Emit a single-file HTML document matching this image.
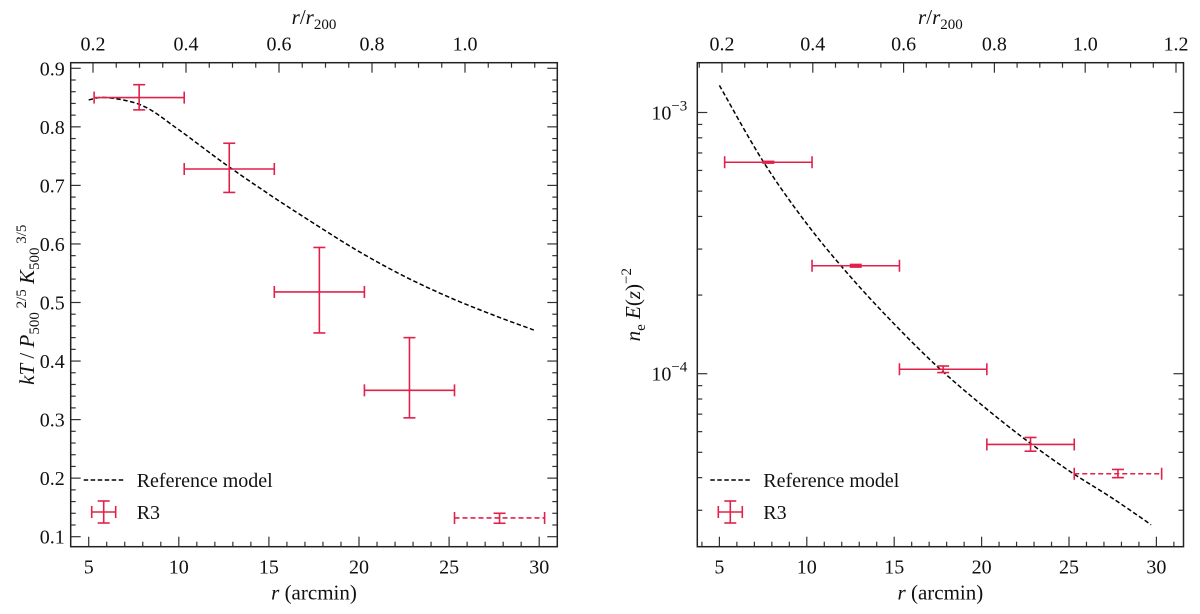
<!DOCTYPE html>
<html><head><meta charset="utf-8">
<style>
html,body{margin:0;padding:0;background:#fff;}
svg, svg text{font-family:"Liberation Serif","Times New Roman","DejaVu Serif","Noto Serif CJK SC",serif;}
</style></head>
<body>
<svg id="fig" width="1200" height="609" viewBox="0 0 1200 609" xmlns="http://www.w3.org/2000/svg"></svg>
<script>
// ---- Left panel data (temperature) ----
const tempBinsR = [7.8, 12.8, 17.8, 22.8, 27.8];
const tempBinLo = [5.3, 10.3, 15.3, 20.3, 25.3];
const tempBinHi = [10.3, 15.3, 20.3, 25.3, 30.3];
const tempValues = [0.850, 0.728, 0.518, 0.350, 0.132];
const tempErrHi = [0.872, 0.772, 0.594, 0.440, 0.140];
const tempErrLo = [0.829, 0.688, 0.448, 0.303, 0.123];
const tempModelR = [5, 6, 8, 10, 12.5, 15, 17.5, 20, 22.5, 25, 27.5, 29.7];
const tempModelV = [0.846, 0.850, 0.836, 0.795, 0.738, 0.685, 0.635, 0.587, 0.545, 0.509, 0.478, 0.453];
const tempYTicks = [0.1,0.2,0.3,0.4,0.5,0.6,0.7,0.8,0.9];
// ---- Right panel data (density) ----
const densValues = [6.45e-4, 2.59e-4, 1.04e-4, 5.36e-5, 4.14e-5];
const densErrHi = [6.50e-4, 2.62e-4, 1.07e-4, 5.70e-5, 4.30e-5];
const densErrLo = [6.40e-4, 2.56e-4, 1.01e-4, 5.05e-5, 4.00e-5];
const densModelR = [5, 7.5, 10, 12.5, 15, 17.5, 20, 22.5, 25, 27.5, 29.7];
const densModelV = [1.27e-3, 6.5e-4, 3.75e-4, 2.35e-4, 1.55e-4, 1.06e-4, 7.6e-5, 5.6e-5, 4.25e-5, 3.33e-5, 2.64e-5];
const xTicks = [5,10,15,20,25,30];
const topTicksL = [0.2,0.4,0.6,0.8,1.0];
const topTicksR = [0.2,0.4,0.6,0.8,1.0,1.2];

const NS="http://www.w3.org/2000/svg";
const svg=document.getElementById('fig');
function el(tag,attrs,parent){const e=document.createElementNS(NS,tag);for(const k in attrs)e.setAttribute(k,attrs[k]);if(tag==='text')e.style.fontFamily='"Liberation Serif","Times New Roman","DejaVu Serif","Noto Serif CJK SC",serif';(parent||svg).appendChild(e);return e;}
const RED="#e0224b";

function catmull(pts){
  let d="M"+pts[0][0]+","+pts[0][1];
  for(let i=0;i<pts.length-1;i++){
    const p0=pts[Math.max(0,i-1)],p1=pts[i],p2=pts[i+1],p3=pts[Math.min(pts.length-1,i+2)];
    const c1=[p1[0]+(p2[0]-p0[0])/6,p1[1]+(p2[1]-p0[1])/6];
    const c2=[p2[0]-(p3[0]-p1[0])/6,p2[1]-(p3[1]-p1[1])/6];
    d+=" C"+c1[0]+","+c1[1]+" "+c2[0]+","+c2[1]+" "+p2[0]+","+p2[1];
  }
  return d;
}

function panel(cfg){
  const g=el('g',{});
  
  
  const {L,R,T,B,X,Y,TX}=cfg;
  for(let v=4;v<=31;v++){
    const x=X(v); if(x<L||x>R) continue;
    const major=xTicks.includes(v), len=major?10:5;
    el('line',{x1:x,x2:x,y1:B,y2:B-len,stroke:'#333','stroke-width':1.2},g);
  }
  xTicks.forEach(v=>{
    const t=el('text',{x:X(v),y:B+27,'font-size':20,'text-anchor':'middle',fill:'#111'},g);
    t.textContent=v;
    
    
  });
  for(let k=0;k<=30;k++){
    const v=k*0.05, x=TX(v); if(x<L||x>R) continue;
    const major=Math.abs(v*5-Math.round(v*5))<1e-6, len=major?10:5;
    el('line',{x1:x,x2:x,y1:T,y2:T+len,stroke:'#333','stroke-width':1.2},g);
  }
  cfg.topTicks.forEach(v=>{
    const t=el('text',{x:TX(v),y:T-12,'font-size':20,'text-anchor':'middle',fill:'#111'},g);
    t.textContent=v.toFixed(1);
    
    
  });
  cfg.yTicks(g);
  const fr=el('rect',{x:L,y:T,width:R-L,height:B-T,fill:'none',stroke:'#222','stroke-width':1.5},g);
  
  
  const xt=el('text',{x:(L+R)/2,y:B+53,'font-size':21,'text-anchor':'middle',fill:'#111'},g);
  xt.innerHTML='<tspan font-style="italic">r</tspan> (arcmin)';
  
  
  const tt=el('text',{x:(L+R)/2,y:24,'font-size':21,'text-anchor':'middle',fill:'#111'},g);
  tt.innerHTML='<tspan font-style="italic">r</tspan>/<tspan font-style="italic">r</tspan><tspan font-size="15" dy="5">200</tspan>';
  
  
  const yt=el('text',{x:0,y:0,'font-size':21,'text-anchor':'middle',fill:'#111',transform:`translate(${cfg.ytX},${(T+B)/2}) rotate(-90)`},g);
  yt.innerHTML=cfg.ytitle;
  
  
  const mp=cfg.modelR.map((r,i)=>[X(r),Y(cfg.modelV[i])]);
  const m=el('path',{d:catmull(mp),fill:'none',stroke:'#000','stroke-width':1.5,'stroke-dasharray':'4.5,2.5'},g);
  
  
  tempBinsR.forEach((r,i)=>{
    const pg=el('g',{stroke:RED,'stroke-width':1.6,fill:'none'},g);
    
    
    const y=Y(cfg.vals[i]), x0=X(tempBinLo[i]), x1=X(tempBinHi[i]), xc=X(r);
    const dash=i===4?{'stroke-dasharray':'5,3'}:{};
    el('line',Object.assign({x1:x0,x2:x1,y1:y,y2:y},dash),pg);
    el('line',{x1:x0,x2:x0,y1:y-6,y2:y+6},pg);
    el('line',{x1:x1,x2:x1,y1:y-6,y2:y+6},pg);
    const yh=Y(cfg.hi[i]), yl=Y(cfg.lo[i]);
    el('line',{x1:xc,x2:xc,y1:yh,y2:yl},pg);
    el('line',{x1:xc-6,x2:xc+6,y1:yh,y2:yh},pg);
    el('line',{x1:xc-6,x2:xc+6,y1:yl,y2:yl},pg);
  });
  const lg=el('g',{},g);
  
  
  const lx=L+13;
  el('line',{x1:lx,x2:lx+42,y1:480,y2:480,stroke:'#000','stroke-width':1.5,'stroke-dasharray':'4.5,2.5'},lg);
  const l1=el('text',{x:lx+53,y:487,'font-size':20,fill:'#111'},lg);
  l1.textContent='Reference model';
  
  
  const mk=el('g',{stroke:RED,'stroke-width':1.6},lg);
  const cx=lx+20;
  el('line',{x1:cx-12,x2:cx+12,y1:512,y2:512},mk);
  el('line',{x1:cx-12,x2:cx-12,y1:506,y2:518},mk);
  el('line',{x1:cx+12,x2:cx+12,y1:506,y2:518},mk);
  el('line',{x1:cx,x2:cx,y1:501,y2:523},mk);
  el('line',{x1:cx-6,x2:cx+6,y1:501,y2:501},mk);
  el('line',{x1:cx-6,x2:cx+6,y1:523,y2:523},mk);
  const l2=el('text',{x:lx+53,y:519,'font-size':20,fill:'#111'},lg);
  l2.textContent='R3';
  
  
}

(function(){
  const L=70.7,R=557.3,T=62.7,B=546.7;
  const X=r=>88.7+(r-5)*18.02;
  const Y=v=>68.3+(0.9-v)*585.5;
  const TX=v=>93+(v-0.2)*465;
  panel({name:'temperature-panel',L,R,T,B,X,Y,TX,topTicks:topTicksL,
    modelR:tempModelR,modelV:tempModelV,vals:tempValues,hi:tempErrHi,lo:tempErrLo,ytX:34,
    ytitle:'<tspan font-style="italic">kT</tspan>  /  <tspan font-style="italic">P</tspan><tspan font-size="15" dy="5">500</tspan><tspan font-size="15" dy="-13"> 2/5</tspan><tspan dy="8"> </tspan><tspan font-style="italic">K</tspan><tspan font-size="15" dy="5">500</tspan><tspan font-size="15" dy="-13"> 3/5</tspan>',
    yTicks:g=>{
      for(let k=4;k<=46;k++){
        const v=k*0.02,y=Y(v); if(y<T||y>B) continue;
        const major=k%5===0,len=major?10:5;
        el('line',{x1:L,x2:L+len,y1:y,y2:y,stroke:'#333','stroke-width':1.2},g);
        el('line',{x1:R,x2:R-len,y1:y,y2:y,stroke:'#333','stroke-width':1.2},g);
      }
      tempYTicks.forEach(v=>{
        const t=el('text',{x:L-6,y:Y(v)+7,'font-size':20,'text-anchor':'end',fill:'#111'},g);
        t.textContent=v.toFixed(1);
        
        
      });
    }});
})();

(function(){
  const L=697.3,R=1183.5,T=62.7,B=546.7;
  const X=r=>719.4+(r-5)*17.48;
  const Y=v=>112.5-(Math.log10(v)+3)*261.2;
  const TX=v=>722+(v-0.2)*454;
  panel({name:'density-panel',L,R,T,B,X,Y,TX,topTicks:topTicksR,
    modelR:densModelR,modelV:densModelV,vals:densValues,hi:densErrHi,lo:densErrLo,ytX:640,
    ytitle:'<tspan font-style="italic">n</tspan><tspan font-size="15" dy="5">e</tspan><tspan dy="-5"> </tspan><tspan font-style="italic">E</tspan>(<tspan font-style="italic">z</tspan>)<tspan font-size="15" dy="-9">−2</tspan>',
    yTicks:g=>{
      [1e-5,1e-4,1e-3].forEach(dec=>{
        for(let m=1;m<=9;m++){
          const v=dec*m,y=Y(v); if(y<T||y>B) continue;
          const len=m===1?10:5;
          el('line',{x1:L,x2:L+len,y1:y,y2:y,stroke:'#333','stroke-width':1.2},g);
          el('line',{x1:R,x2:R-len,y1:y,y2:y,stroke:'#333','stroke-width':1.2},g);
        }
      });
      [[1e-3,'−3'],[1e-4,'−4']].forEach(([v,e])=>{
        const t=el('text',{x:L-10,y:Y(v)+7,'font-size':20,'text-anchor':'end',fill:'#111'},g);
        t.innerHTML='10<tspan font-size="15" dy="-9">'+e+'</tspan>';
        
        
      });
    }});
})();
</script>
</body></html>
